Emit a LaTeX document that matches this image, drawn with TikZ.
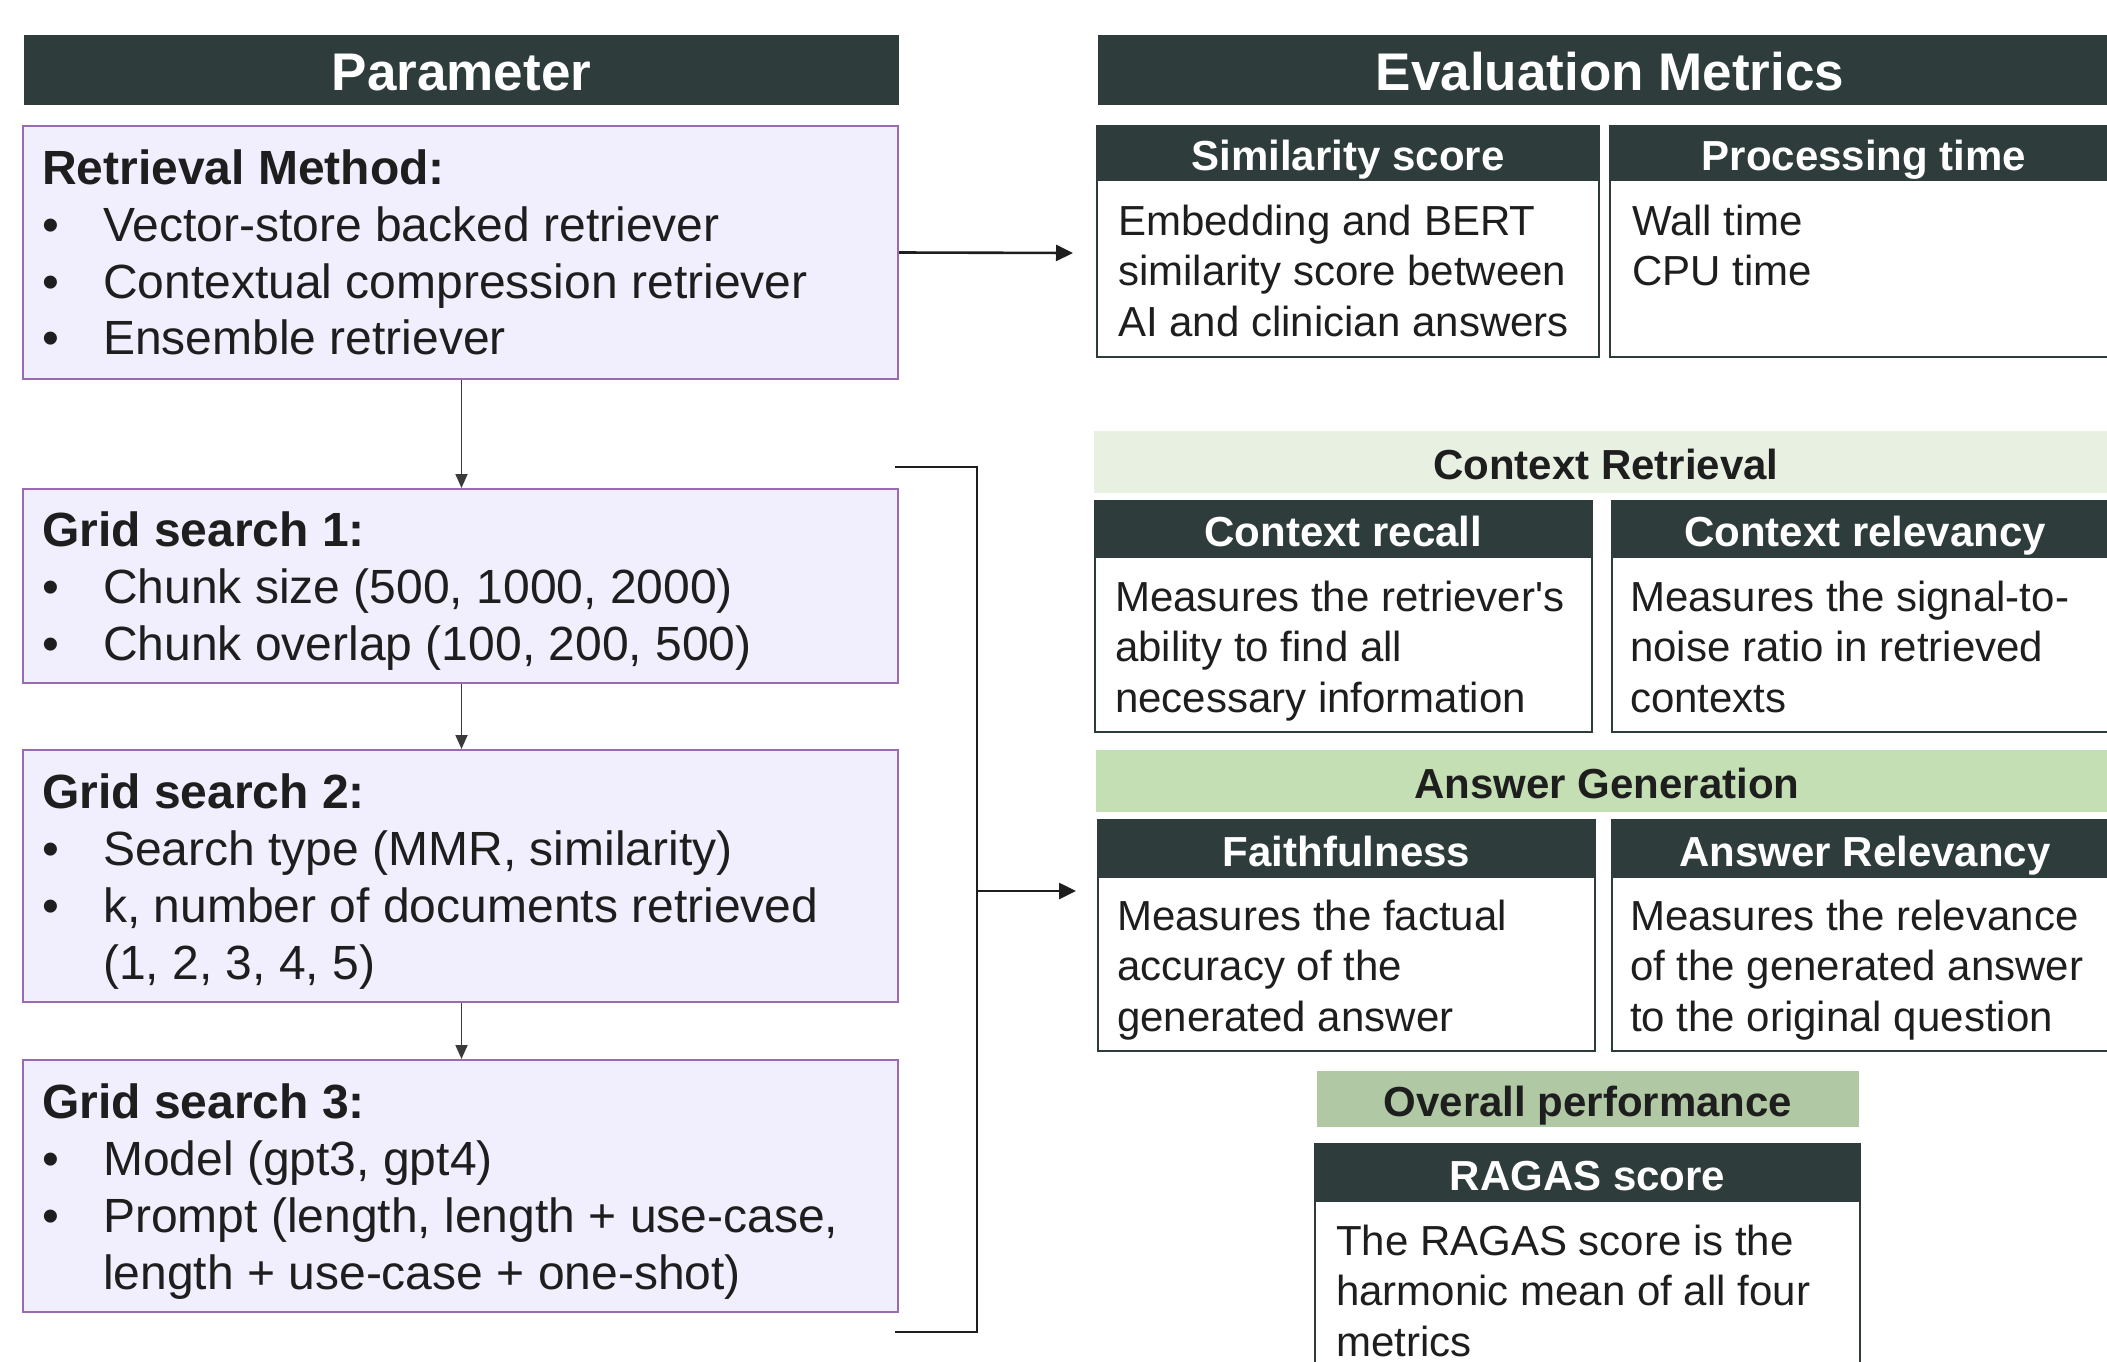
\documentclass[tikz,border=0pt]{standalone}
\usepackage{fontspec}
\setmainfont{Liberation Sans}
\usetikzlibrary{arrows.meta,calc}

\definecolor{headbg}{HTML}{2E3D3B}
\definecolor{parfill}{HTML}{F1EEFD}
\definecolor{pardraw}{HTML}{9A6BB2}
\definecolor{bandA}{HTML}{E8F0E1}
\definecolor{bandB}{HTML}{C5DFB4}
\definecolor{bandC}{HTML}{B0C8A4}
\definecolor{inkdark}{HTML}{1E1E1E}
\definecolor{linkgray}{HTML}{3A3A3A}

% font sizes
\newcommand\bigheadfont{\fontsize{53}{64}\selectfont\bfseries}
\newcommand\leftfont{\fontsize{48}{57}\selectfont}
\newcommand\rightfont{\fontsize{42}{50.5}\selectfont}
\newcommand\rightheadfont{\fontsize{42}{50.5}\selectfont\bfseries}

% stacked lines with a fixed baseline distance; the node base is the first baseline
\newcommand\txtstack[2]{\vtop{\baselineskip=#1\relax #2}}
\newcommand\mkline[1]{\hbox{#1}}
\newcommand\bul{\makebox[61pt][l]{\textbullet}}
\newcommand\ind{\hspace*{61pt}}

\tikzset{
  mainhead/.style={fill=headbg, draw=headbg, line width=1.5pt, text=white,
    font=\bigheadfont, text height=41pt, text depth=0pt, inner sep=0pt},
  parbox/.style={fill=parfill, draw=pardraw, line width=2pt, inner sep=0pt},
  lefttext/.style={anchor=base west, inner sep=0pt, font=\leftfont, text=inkdark},
  metrichead/.style={fill=headbg, draw=headbg, line width=1.5pt, text=white,
    font=\rightheadfont, text height=35pt, text depth=0pt, inner sep=0pt},
  metricbody/.style={fill=white, draw=headbg, line width=2pt, inner sep=0pt},
  righttext/.style={anchor=base west, inner sep=0pt, font=\rightfont, text=inkdark},
  band/.style={draw=none, text=inkdark, font=\rightheadfont,
    text height=35pt, text depth=0pt, inner sep=0pt},
  flow/.style={draw=linkgray, line width=1.8pt, -{Triangle[length=14pt,width=12pt]}},
  feed/.style={draw=inkdark, line width=2.6pt, -{Triangle[length=17pt,width=16pt]}},
  bracketline/.style={draw=inkdark, line width=2.6pt, line join=miter},
}

\begin{document}
\begin{tikzpicture}[x=1pt,y=-1pt]
\useasboundingbox (0,0) rectangle (2107,1362);
\clip (0,0) rectangle (2107,1362);

% ---------------- parameter column ----------------
\node[mainhead, minimum width=873pt, minimum height=68pt] (parhead) at (461.5,70) {Parameter};

\node[parbox, minimum width=875pt, minimum height=253pt] (retr) at (460.5,252.5) {};
\node[lefttext] (retrtxt) at ($(retr.north west)+(20,59)$) {\txtstack{57pt}{%
  \mkline{\bfseries Retrieval Method:}%
  \mkline{\bul Vector-store backed retriever}%
  \mkline{\bul Contextual compression retriever}%
  \mkline{\bul Ensemble retriever}}};

\node[parbox, minimum width=875pt, minimum height=194pt] (gs1) at (460.5,586) {};
\node[lefttext] (gs1txt) at ($(gs1.north west)+(20,58)$) {\txtstack{57pt}{%
  \mkline{\bfseries Grid search 1:}%
  \mkline{\bul Chunk size (500, 1000, 2000)}%
  \mkline{\bul Chunk overlap (100, 200, 500)}}};

\node[parbox, minimum width=875pt, minimum height=252pt] (gs2) at (460.5,876) {};
\node[lefttext] (gs2txt) at ($(gs2.north west)+(20,59)$) {\txtstack{57pt}{%
  \mkline{\bfseries Grid search 2:}%
  \mkline{\bul Search type (MMR, similarity)}%
  \mkline{\bul k, number of documents retrieved}%
  \mkline{\ind (1, 2, 3, 4, 5)}}};

\node[parbox, minimum width=875pt, minimum height=252pt] (gs3) at (460.5,1186) {};
\node[lefttext] (gs3txt) at ($(gs3.north west)+(20,59)$) {\txtstack{57pt}{%
  \mkline{\bfseries Grid search 3:}%
  \mkline{\bul Model (gpt3, gpt4)}%
  \mkline{\bul Prompt (length, length + use-case,}%
  \mkline{\ind length + use-case + one-shot)}}};

\draw[flow] (retr.south -| parhead.south) -- (gs1.north -| parhead.south);
\draw[flow] (gs1.south -| parhead.south) -- (gs2.north -| parhead.south);
\draw[flow] (gs2.south -| parhead.south) -- (gs3.north -| parhead.south);

% ---------------- evaluation column ----------------
\node[mainhead, minimum width=1022pt, minimum height=68pt] (evalhead) at (1610,70) {Evaluation Metrics};

% similarity / processing time
\node[metrichead, minimum width=502pt, minimum height=54pt] (simhead) at (1348,153) {Similarity score};
\node[metricbody, minimum width=502pt, minimum height=177pt] (simbody) at (1348,268.5) {};
\node[righttext] (simtxt) at ($(simbody.north west)+(22,56)$) {\txtstack{50.5pt}{%
  \mkline{Embedding and BERT}%
  \mkline{similarity score between}%
  \mkline{AI and clinician answers}}};

\node[metrichead, minimum width=508pt, minimum height=54pt] (prochead) at (1864,153) {Processing time};
\node[metricbody, minimum width=508pt, minimum height=177pt] (procbody) at (1864,268.5) {};
\node[righttext] (proctxt) at ($(procbody.north west)+(23,56)$) {\txtstack{50.5pt}{%
  \mkline{Wall time}%
  \mkline{CPU time}}};

% context retrieval
\node[band, fill=bandA, minimum width=1024pt, minimum height=62pt] (ctxband) at (1606,462) {Context Retrieval};

\node[metrichead, minimum width=497pt, minimum height=56pt] (rechead) at (1343.5,529) {Context recall};
\node[metricbody, minimum width=497pt, minimum height=175pt] (recbody) at (1343.5,644.5) {};
\node[righttext] (rectxt) at ($(recbody.north west)+(21,55)$) {\txtstack{50.5pt}{%
  \mkline{Measures the retriever\textquotesingle s}%
  \mkline{ability to find all}%
  \mkline{necessary information}}};

\node[metrichead, minimum width=506pt, minimum height=56pt] (relhead) at (1865,529) {Context relevancy};
\node[metricbody, minimum width=506pt, minimum height=175pt] (relbody) at (1865,644.5) {};
\node[righttext] (reltxt) at ($(relbody.north west)+(19,55)$) {\txtstack{50.5pt}{%
  \mkline{Measures the signal-to-}%
  \mkline{noise ratio in retrieved}%
  \mkline{contexts}}};

% answer generation
\node[band, fill=bandB, minimum width=1022pt, minimum height=62pt] (ansband) at (1607,781) {Answer Generation};

\node[metrichead, minimum width=497pt, minimum height=57pt] (faithhead) at (1346.5,848.5) {Faithfulness};
\node[metricbody, minimum width=497pt, minimum height=174pt] (faithbody) at (1346.5,964) {};
\node[righttext] (faithtxt) at ($(faithbody.north west)+(20,54)$) {\txtstack{50.5pt}{%
  \mkline{Measures the factual}%
  \mkline{accuracy of the}%
  \mkline{generated answer}}};

\node[metrichead, minimum width=506pt, minimum height=57pt] (arhead) at (1865,848.5) {Answer Relevancy};
\node[metricbody, minimum width=506pt, minimum height=174pt] (arbody) at (1865,964) {};
\node[righttext] (artxt) at ($(arbody.north west)+(19,54)$) {\txtstack{50.5pt}{%
  \mkline{Measures the relevance}%
  \mkline{of the generated answer}%
  \mkline{to the original question}}};

% overall performance
\node[band, fill=bandC, minimum width=542pt, minimum height=56pt] (ovband) at (1588,1099) {Overall performance};
\node[metrichead, minimum width=545pt, minimum height=57pt] (raghead) at (1587.5,1172.5) {RAGAS score};
\node[metricbody, minimum width=545pt, minimum height=220pt] (ragbody) at (1587.5,1311) {};
\node[righttext] (ragtxt) at ($(ragbody.north west)+(22,55)$) {\txtstack{50.5pt}{%
  \mkline{The RAGAS score is the}%
  \mkline{harmonic mean of all four}%
  \mkline{metrics}}};

% ---------------- connectors ----------------
\coordinate (simin) at (1073,253);
\draw[feed] (retr.east) -- (simin);

\coordinate (brtop) at (895,467);
\coordinate (brbot) at (895,1332);
\coordinate (brtopc) at (977,467);
\coordinate (brbotc) at (977,1332);
\coordinate (brmid) at (977,891);
\coordinate (ragin) at (1076,891);
\draw[bracketline] (brtop) -- (brtopc) -- (brbotc) -- (brbot);
\draw[feed] (brmid) -- (ragin);

\end{tikzpicture}
\end{document}
